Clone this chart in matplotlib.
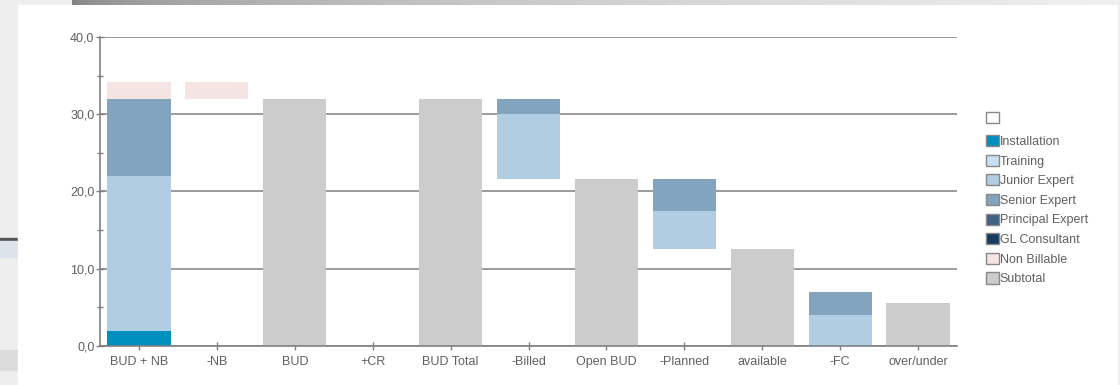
import matplotlib
matplotlib.use("Agg")
import matplotlib.pyplot as plt
import numpy as np
from matplotlib.patches import Patch, Rectangle
from matplotlib.ticker import FuncFormatter, MultipleLocator

plt.rcParams['font.family'] = ['Liberation Sans', 'DejaVu Sans']

# waterfall data (hours)
categories = ['BUD + NB', '-NB', 'BUD', '+CR', 'BUD Total', '-Billed',
              'Open BUD', '-Planned', 'available', '-FC', 'over/under']
offset = [0, 32.0, 0, 0, 0, 21.6, 0, 12.6, 0, 0, 0]
installation = [2.0, 0, 0, 0, 0, 0, 0, 0, 0, 0, 0]
training = [0, 0, 0, 0, 0, 0, 0, 0, 0, 0, 0]
junior_expert = [20.0, 0, 0, 0, 0, 8.4, 0, 4.9, 0, 4.0, 0]
senior_expert = [10.0, 0, 0, 0, 0, 2.0, 0, 4.1, 0, 3.0, 0]
principal_expert = [0, 0, 0, 0, 0, 0, 0, 0, 0, 0, 0]
gl_consultant = [0, 0, 0, 0, 0, 0, 0, 0, 0, 0, 0]
non_billable = [2.2, 2.2, 0, 0, 0, 0, 0, 0, 0, 0, 0]
subtotal = [0, 0, 32.0, 0, 32.0, 0, 21.6, 0, 12.6, 0, 5.6]

series = [
    ('Installation', installation, '#0090c0'),
    ('Training', training, '#c8e0f4'),
    ('Junior Expert', junior_expert, '#b0cde1'),
    ('Senior Expert', senior_expert, '#82a4bf'),
    ('Principal Expert', principal_expert, '#3f6285'),
    ('GL Consultant', gl_consultant, '#163b5f'),
    ('Non Billable', non_billable, '#f5e4e4'),
    ('Subtotal', subtotal, '#cccccc'),
]

fig = plt.figure(figsize=(11.2, 3.85), dpi=100, facecolor='#eeeeee')

# window behind the chart panel
def backdrop(x0, y0, w, h, color):
    fig.patches.append(Rectangle((x0 / 1120, 1 - (y0 + h) / 385), w / 1120, h / 385,
                                 transform=fig.transFigure, color=color, zorder=-5))

backdrop(0, 238, 18, 2, '#555555')
backdrop(0, 241, 18, 16, '#dde3ea')
backdrop(0, 350, 18, 20, '#dcdcdc')
backdrop(18, 5, 1099, 380, 'white')

# shaded strip along the top edge
strip = fig.add_axes([72 / 1120, 380 / 385, 1048 / 1120, 5 / 385])
strip.imshow(np.linspace(0, 1, 200)[None, :] ** 0.5, aspect='auto', cmap='gray',
             vmin=-1.2, vmax=1.15, extent=(0, 1, 0, 1))
strip.axis('off')

ax = fig.add_axes([100 / 1120, 39 / 385, 857 / 1120, 309 / 385])
ax.set_zorder(2)
ax.set_facecolor('white')

x = range(len(categories))
bottom = list(offset)
for name, vals, color in series:
    ax.bar(x, vals, bottom=bottom, width=0.81, color=color, linewidth=0, zorder=3)
    bottom = [b + v for b, v in zip(bottom, vals)]

ax.set_xlim(-0.5, len(categories) - 0.5)
ax.set_ylim(0, 40)
ax.set_xticks(list(x))
ax.set_xticklabels(categories)
ax.yaxis.set_major_locator(MultipleLocator(10))
ax.yaxis.set_minor_locator(MultipleLocator(5))
ax.yaxis.set_major_formatter(FuncFormatter(lambda v, p: f"{v:.1f}".replace('.', ',')))

ax.grid(axis='y', which='major', color='#808080', linewidth=1.1, zorder=1)
for s in ['top', 'right']:
    ax.spines[s].set_visible(False)
for s in ['left', 'bottom']:
    ax.spines[s].set_color('#808080')
    ax.spines[s].set_linewidth(1.2)
    ax.spines[s].set_zorder(4)

ax.tick_params(axis='both', which='both', colors='#808080', labelcolor='#606060',
               labelsize=9, direction='inout', width=1)
ax.tick_params(axis='y', which='major', length=6, pad=1)
ax.tick_params(axis='y', which='minor', length=5)
ax.tick_params(axis='x', which='major', length=6, pad=4)

# legend: an empty box on its own, then the series
blank = fig.legend([Patch(facecolor='white', edgecolor='#888888', linewidth=1)], [''],
                   loc='upper left', bbox_to_anchor=(986 / 1120, 1 - 112 / 385),
                   frameon=False, fontsize=9, handlelength=1.0, handleheight=1.0,
                   handletextpad=0.1, borderaxespad=0, borderpad=0)
handles = [Patch(facecolor=c, edgecolor='#888888', linewidth=1) for _, _, c in series]
labels = [name for name, _, _ in series]
leg = fig.legend(handles, labels, loc='upper left', bbox_to_anchor=(986 / 1120, 1 - 135 / 385),
                 frameon=False, fontsize=9, handlelength=1.0, handleheight=1.0,
                 handletextpad=0.1, labelspacing=0.54, borderaxespad=0, borderpad=0)
for t in leg.get_texts():
    t.set_color('#606060')

fig.savefig('out.png', dpi=100, facecolor=fig.get_facecolor())
